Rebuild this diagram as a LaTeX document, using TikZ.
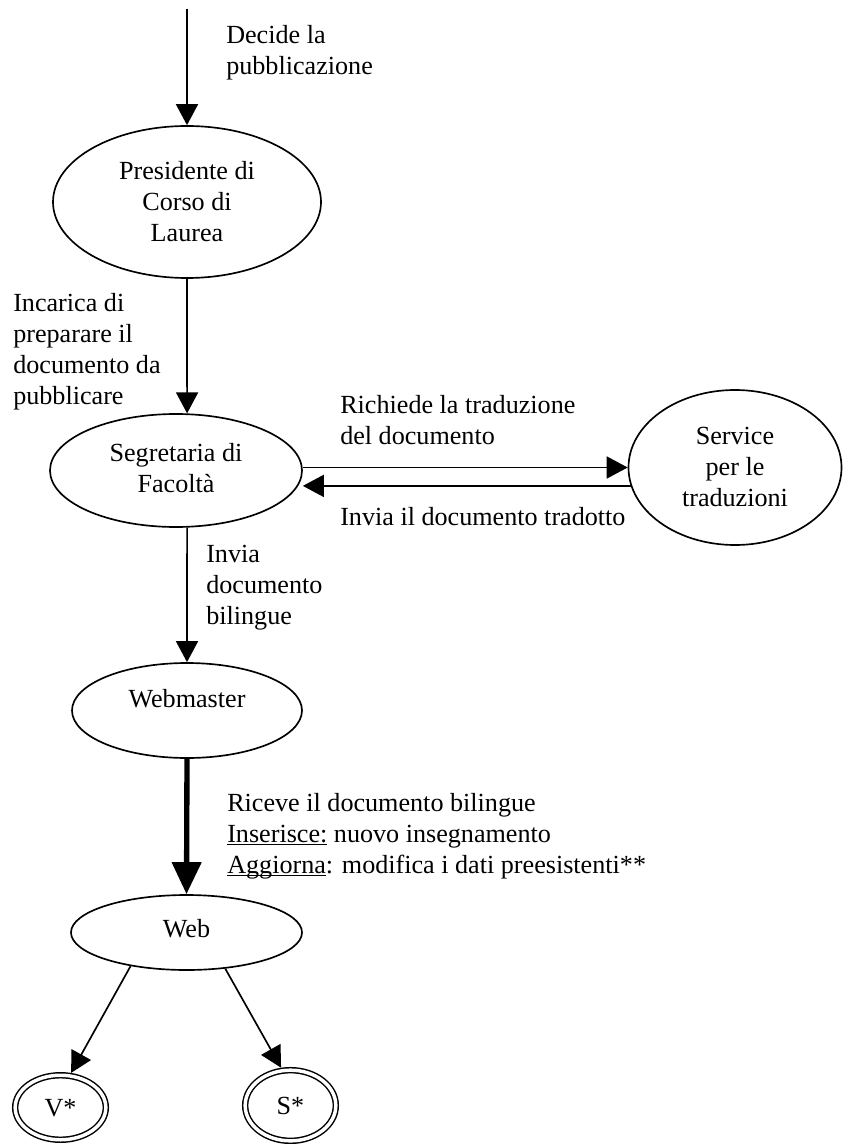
\documentclass[tikz,border=0pt]{standalone}
\usepackage{fontspec}
\setmainfont{Liberation Serif}
\usetikzlibrary{arrows.meta,shapes.geometric}

% stacked lines, first baseline = box baseline
\newcommand{\mylines}[1]{\begin{tabular}[t]{@{}c@{}}#1\end{tabular}}
\newcommand{\myleft}[1]{\begin{tabular}[t]{@{}l@{}}#1\end{tabular}}
% text inside an oval: first baseline raised by #1 from the oval centre
\newcommand{\inoval}[2]{\raisebox{#1}[0pt][0pt]{\mylines{#2}}}
% underline at a fixed depth under the baseline
\newcommand{\ulword}[1]{\sbox0{#1}\rlap{\rule[-2.2pt]{\wd0}{0.95pt}}\usebox0}

\tikzset{
  txt/.style={font=\fontsize{19.6pt}{23.25pt}\selectfont, inner sep=0pt},
  oval/.style={txt, ellipse, draw, line width=1.25pt},
  finaloval/.style={txt, ellipse, draw, line width=1.1pt, double, double distance=2.6pt, outer sep=2.4pt},
  flow/.style={line width=1.25pt, -{Triangle[length=15.75pt,width=16.5pt]}},
  mainflow/.style={line width=4pt, -{Triangle[length=24pt,width=21.5pt]}},
  lbl/.style={txt, anchor=base west},
}

\begin{document}
\begin{tikzpicture}[x=0.75pt, y=-0.75pt]
\useasboundingbox (0,0) rectangle (847,1144);

% actors
\node[oval, minimum width=201pt, minimum height=114pt] (pres) at (187,202)
  {\inoval{16.5pt}{Presidente di\\Corso di\\Laurea}};
\node[oval, minimum width=189pt, minimum height=84.75pt] (seg) at (176,470.5)
  {\inoval{6.4pt}{Segretaria di\\Facoltà}};
\node[oval, minimum width=159.75pt, minimum height=116.25pt] (serv) at (735,467.5)
  {\inoval{17.6pt}{Service\\per le\\traduzioni}};
\node[oval, minimum width=172.5pt, minimum height=71.25pt] (wm) at (187,710.5)
  {\inoval{1.9pt}{Webmaster}};
\node[oval, minimum width=173.25pt, minimum height=56.25pt] (web) at (186.5,932.5)
  {\inoval{-4.1pt}{Web}};
\node[finaloval, minimum width=68pt, minimum height=48.4pt] (v) at (60.5,1107.5)
  {\inoval{-7.1pt}{V*}};
\node[finaloval, minimum width=68pt, minimum height=53pt] (s) at (290.5,1105.5)
  {\inoval{-7.1pt}{S*}};

% flows
\coordinate (src) at (187,9);
\draw[flow] (src) -- (pres.north);
\draw[flow] (pres.south) -- (seg.79);
\draw[flow] (seg.east |- serv.west) -- (serv.west);
\draw[flow] (serv.190) -- (seg.east |- serv.190);
\draw[flow] (seg.281) -- (wm.north);
\draw[mainflow] (wm.south) -- (web.north);
\draw[flow] (web.211) -- (v.73);
\draw[flow] (web.317) -- (s.104);

% flow descriptions
\node[lbl] (l1) at (226,44) {\myleft{Decide la\\pubblicazione}};
\node[lbl] (l2) at (13,312) {\myleft{Incarica di\\preparare il\\documento da\\pubblicare}};
\node[lbl] (l3) at (340,413) {\myleft{Richiede la traduzione\\del documento}};
\node[lbl] (l4) at (340,525) {Invia il documento tradotto};
\node[lbl] (l5) at (206,562) {\myleft{Invia\\documento\\bilingue}};
\node[lbl] (l6) at (227,811) {\myleft{Riceve il documento bilingue\\\ulword{Inserisce:} nuovo insegnamento\\\ulword{Aggiorna}: modifica i dati preesistenti**}};
\end{tikzpicture}
\end{document}
